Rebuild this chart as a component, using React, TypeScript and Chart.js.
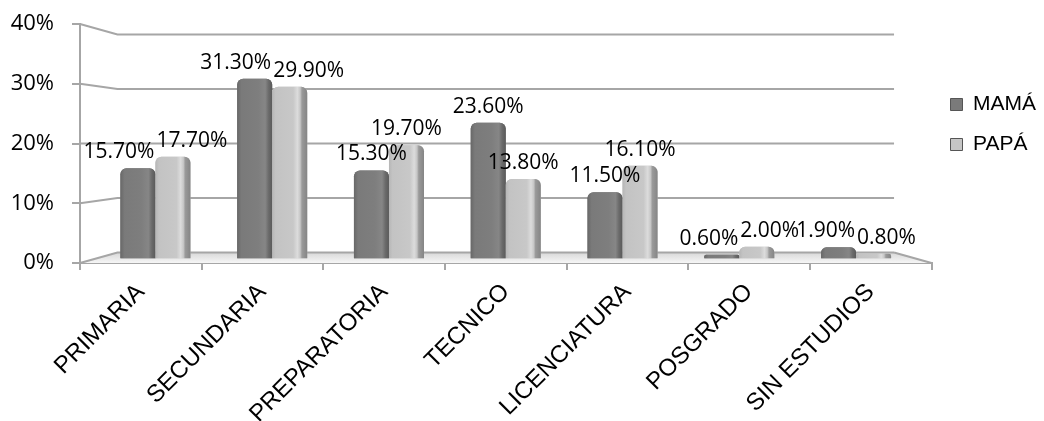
import React, { useEffect, useRef } from 'react';
import { Chart, registerables } from 'chart.js';

Chart.register(...registerables);

// ---------- data ----------
const categories = ['PRIMARIA', 'SECUNDARIA', 'PREPARATORIA', 'TECNICO', 'LICENCIATURA', 'POSGRADO', 'SIN ESTUDIOS'];
const mamaValues = [15.7, 31.3, 15.3, 23.6, 11.5, 0.6, 1.9];
const papaValues = [17.7, 29.9, 19.7, 13.8, 16.1, 2.0, 0.8];
const yTicks = [0, 10, 20, 30, 40];
const seriesNames = ['MAMÁ', 'PAPÁ'];

// ---------- look ----------
const W = 1044;
const H = 470;
const BACK = 0.912; // perspective shrink of the back wall
const MID = 0.96; // perspective shrink of the plane the columns stand in
const GRID = '#a6a6a6';
const baseColors = ['#7a7a7a', '#c6c6c6'];
const gradStops: Array<Array<[number, string]>> = [
  [[0, '#686868'], [0.12, '#7a7a7a'], [0.6, '#7e7e7e'], [0.8, '#868686'], [0.9, '#6a6a6a'], [1, '#5a5a5a']],
  [[0, '#b6b6b6'], [0.1, '#c3c3c3'], [0.6, '#c8c8c8'], [0.72, '#dcdcdc'], [0.8, '#c6c6c6'], [0.85, '#9a9a9a'], [1, '#858585']],
];

const proj = (ca: any, x: number, y: number, f: number): [number, number] => {
  const cx = (ca.left + ca.right) / 2;
  const cy = (ca.top + ca.bottom) / 2;
  return [cx + (x - cx) * f, cy + (y - cy) * f];
};

const wallPlugin = {
  id: 'wall3d',
  beforeDatasetsDraw(chart: any) {
    const { ctx, chartArea: ca, scales } = chart;
    const ys = scales.y;
    const bl = proj(ca, ca.left, ca.bottom, BACK);
    const br = proj(ca, ca.right, ca.bottom, BACK);
    ctx.save();
    const g = ctx.createLinearGradient(0, bl[1], 0, ca.bottom);
    g.addColorStop(0, '#d8d8d8');
    g.addColorStop(1, '#f6f6f6');
    ctx.beginPath();
    ctx.moveTo(ca.left, ca.bottom);
    ctx.lineTo(ca.right, ca.bottom);
    ctx.lineTo(br[0], br[1]);
    ctx.lineTo(bl[0], bl[1]);
    ctx.closePath();
    ctx.fillStyle = g;
    ctx.fill();
    ctx.strokeStyle = GRID;
    ctx.lineWidth = 2;
    for (const v of yTicks) {
      const py = ys.getPixelForValue(v);
      const a = proj(ca, ca.left, py, BACK);
      const b = proj(ca, ca.right, py, BACK);
      ctx.beginPath();
      ctx.moveTo(ca.left, py);
      ctx.lineTo(a[0], a[1]);
      ctx.lineTo(b[0], b[1]);
      ctx.stroke();
    }
    ctx.beginPath();
    ctx.moveTo(br[0], br[1]);
    ctx.lineTo(ca.right, ca.bottom);
    ctx.stroke();
    ctx.restore();
  },
  afterDatasetsDraw(chart: any) {
    const { ctx } = chart;
    ctx.save();
    // column shading
    chart.data.datasets.forEach((ds: any, di: number) => {
      const meta = chart.getDatasetMeta(di);
      meta.data.forEach((el: any) => {
        const { x, y, base, width } = el.getProps(['x', 'y', 'base', 'width'], true);
        const left = x - width / 2;
        const h = base - y;
        if (h <= 0) return;
        const r = Math.min(6, width / 2, h / 2);
        const g = ctx.createLinearGradient(left, 0, left + width, 0);
        gradStops[di].forEach(([o, c]) => g.addColorStop(o, c));
        ctx.beginPath();
        ctx.roundRect(left, y, width, h, [r, r, 0, 0]);
        ctx.fillStyle = g;
        ctx.fill();
      });
    });
    // data labels
    ctx.font = '21px "Open Sans"';
    ctx.fillStyle = '#000';
    ctx.textAlign = 'center';
    ctx.textBaseline = 'middle';
    const m0 = chart.getDatasetMeta(0);
    const m1 = chart.getDatasetMeta(1);
    categories.forEach((_, i) => {
      const items = [m0, m1].map((m, di) => {
        const el = m.data[i];
        const v = chart.data.datasets[di].data[i].y;
        const text = v.toFixed(2) + '%';
        return { x: el.x, y: el.y - 16, text, w: ctx.measureText(text).width };
      });
      const [a, b] = items;
      if (Math.abs(a.y - b.y) < 18) {
        const need = (a.w + b.w) / 2 + 2 - (b.x - a.x);
        if (need > 0) {
          a.x -= need / 2;
          b.x += need / 2;
        }
      }
      items.forEach((it) => ctx.fillText(it.text, it.x, it.y));
    });
    ctx.restore();
  },
};

const App = () => {
  const ref = useRef<HTMLCanvasElement>(null);
  useEffect(() => {
    const canvas = ref.current!;
    const f = MID;
    const n = categories.length;
    const chart = new Chart(canvas, {
      type: 'bar',
      data: {
        labels: categories,
        datasets: [mamaValues, papaValues].map((vals, di) => ({
          label: seriesNames[di],
          data: vals.map((v, i) => ({ x: i, y: v })),
          xAxisID: 'x2',
          yAxisID: 'y2',
          backgroundColor: baseColors[di],
          borderWidth: 0,
          borderRadius: 6,
          categoryPercentage: 0.6,
          barPercentage: 1,
        })),
      },
      options: {
        responsive: false,
        animation: false,
        devicePixelRatio: 1,
        layout: { padding: { top: 24, right: -2, left: 0, bottom: 0 } },
        plugins: {
          tooltip: { enabled: false },
          legend: {
            position: 'right',
            align: 'start',
            title: { display: true, text: ' ', font: { size: 10 }, padding: { top: 0, bottom: 39 } },
            labels: {
              color: '#000',
              font: { family: '"Liberation Sans", Arial, sans-serif', size: 21 },
              boxWidth: 12,
              boxHeight: 12,
              padding: 19,
              generateLabels: (ch: any) =>
                Chart.defaults.plugins.legend.labels.generateLabels(ch).map((l: any) => ({
                  ...l,
                  strokeStyle: '#555',
                  lineWidth: 1,
                })),
            },
          },
        },
        scales: {
          x: {
            type: 'category',
            offset: true,
            grid: { offset: true, drawOnChartArea: false, drawTicks: true, tickLength: 7, color: GRID, lineWidth: 2 },
            border: { display: true, color: GRID, width: 2 },
            ticks: {
              autoSkip: false,
              maxRotation: 45,
              minRotation: 45,
              padding: 8,
              color: '#000',
              font: { family: '"Liberation Sans", Arial, sans-serif', size: 24 },
            },
            afterFit: (s: any) => {
              s.height = H - 263;
            },
          },
          y: {
            type: 'linear',
            position: 'left',
            min: 0,
            max: 40,
            afterBuildTicks: (s: any) => {
              s.ticks = yTicks.map((v) => ({ value: v }));
            },
            grid: { drawOnChartArea: false, drawTicks: true, tickLength: 8, color: GRID, lineWidth: 2 },
            border: { display: true, color: GRID, width: 2 },
            ticks: {
              padding: 18,
              color: '#000',
              font: { family: '"Open Sans", sans-serif', size: 22 },
              callback: (v: any) => v + '%',
            },
            afterFit: (s: any) => {
              s.width = 80;
              s.paddingTop = 0;
              s.paddingBottom = 0;
            },
          },
          x2: {
            type: 'linear',
            display: false,
            offset: false,
            bounds: 'data',
            min: (n - 1) / 2 - n / 2 / f,
            max: (n - 1) / 2 + n / 2 / f,
            afterBuildTicks: (s: any) => {
              s.ticks = categories.map((_, i) => ({ value: i }));
            },
          },
          y2: {
            type: 'linear',
            display: false,
            bounds: 'data',
            min: 20 - 20 / f,
            max: 20 + 20 / f,
          },
        },
      },
      plugins: [wallPlugin],
    } as any);
    return () => chart.destroy();
  }, []);
  return (
    <div style={{ position: 'fixed', left: 0, top: 0, width: W, height: H, background: '#fff' }}>
      <canvas ref={ref} width={W} height={H} style={{ display: 'block', width: W, height: H }} />
    </div>
  );
};

export default App;
